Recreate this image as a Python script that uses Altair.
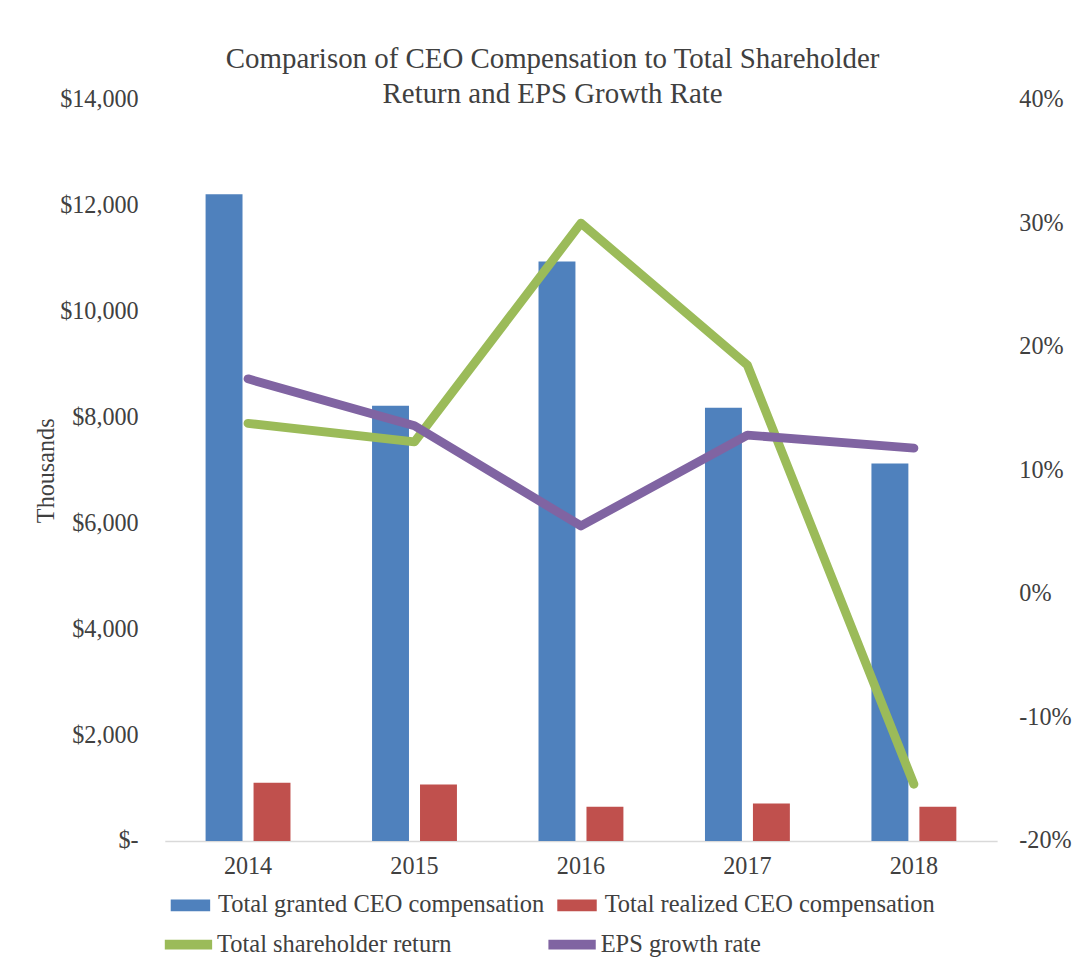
import altair as alt
import pandas as pd

years = ["2014", "2015", "2016", "2017", "2018"]
granted = [12210, 8220, 10940, 8180, 7130]
realized = [1100, 1070, 650, 710, 650]
tsr = [13.8, 12.3, 30.0, 18.5, -15.4]
eps = [17.4, 13.6, 5.5, 12.85, 11.8]

bar_names = ["Total granted CEO compensation", "Total realized CEO compensation"]
line_names = ["Total shareholder return", "EPS growth rate"]
bar_colors = ["#4F81BD", "#C0504D"]
line_colors = ["#9BBB59", "#8064A2"]

FONT = "Liberation Serif"
TXT = "#404040"
FS = 24.5
LFS = 24.8

bars_df = pd.DataFrame(
    {"year": years * 2,
     "series": [bar_names[0]] * 5 + [bar_names[1]] * 5,
     "value": granted + realized}
)
lines_df = pd.DataFrame(
    {"year": years * 2,
     "series": [line_names[0]] * 5 + [line_names[1]] * 5,
     "pct": tsr + eps}
)

x_enc = alt.X(
    "year:N",
    sort=years,
    scale=alt.Scale(paddingInner=0.49, paddingOuter=0.245),
    axis=alt.Axis(title=None, labelAngle=0, labelFont=FONT, labelFontSize=FS,
                  labelColor=TXT, ticks=False, domainColor="#D9D9D9",
                  domainWidth=1.5, labelPadding=14, grid=False),
)

bars = alt.Chart(bars_df).mark_bar().encode(
    x=x_enc,
    xOffset=alt.XOffset("series:N", sort=bar_names,
                        scale=alt.Scale(paddingInner=0.23, paddingOuter=0)),
    y=alt.Y("value:Q",
            scale=alt.Scale(domain=[0, 14000], nice=False),
            axis=alt.Axis(title="Thousands", values=list(range(0, 14001, 2000)),
                          labelExpr="datum.value == 0 ? '$-' : '$' + format(datum.value, ',')",
                          labelFont=FONT, labelFontSize=FS, labelColor=TXT,
                          titleFont=FONT, titleFontSize=FS, titleFontWeight="normal",
                          titleColor=TXT, titlePadding=1,
                          ticks=False, domain=False, grid=False, labelPadding=27)),
    color=alt.Color("series:N", sort=bar_names,
                    scale=alt.Scale(domain=bar_names, range=bar_colors),
                    title=None,
                    legend=alt.Legend(orient="none", legendX=5, legendY=796,
                                      direction="horizontal", columns=2,
                                      symbolType="M-1,-0.3H1V0.3H-1Z", symbolSize=1600,
                                      labelFont=FONT, labelFontSize=LFS, labelColor=TXT,
                                      labelOffset=7, columnPadding=12, padding=0,
                                      labelLimit=500)),
)

lines = alt.Chart(lines_df).mark_line(strokeWidth=9, strokeCap="round", strokeJoin="round").encode(
    x=alt.X("year:N", sort=years),
    y=alt.Y("pct:Q",
            scale=alt.Scale(domain=[-20, 40], nice=False),
            axis=alt.Axis(orient="right", title=None, values=list(range(-20, 41, 10)),
                          labelExpr="datum.value + '%'",
                          labelFont=FONT, labelFontSize=FS, labelColor=TXT,
                          ticks=False, domain=False, grid=False, labelPadding=22)),
    stroke=alt.Stroke("series:N", sort=line_names,
                      scale=alt.Scale(domain=line_names, range=line_colors),
                      title=None,
                      legend=alt.Legend(orient="none", legendX=-5, legendY=828,
                                        direction="horizontal", columns=2,
                                        symbolType="stroke", symbolSize=2304,
                                        symbolStrokeWidth=10,
                                        labelFont=FONT, labelFontSize=LFS, labelColor=TXT,
                                        labelOffset=0, columnPadding=78, padding=0,
                                        labelLimit=500)),
)

chart = alt.layer(bars, lines).resolve_scale(y="independent").properties(
    width=844,
    height=752,
    padding={"left": 26, "top": 30, "right": 5, "bottom": 5},
    title=alt.TitleParams(
        text=["Comparison of CEO Compensation to Total Shareholder",
              "Return and EPS Growth Rate"],
        font=FONT, fontSize=29.3, fontWeight="normal", color=TXT,
        lineHeight=36, anchor="middle", frame="bounds", offset=-23,
    ),
).configure_view(strokeWidth=0)

chart.save("out.html", embed_options={"renderer": "svg", "actions": False})
